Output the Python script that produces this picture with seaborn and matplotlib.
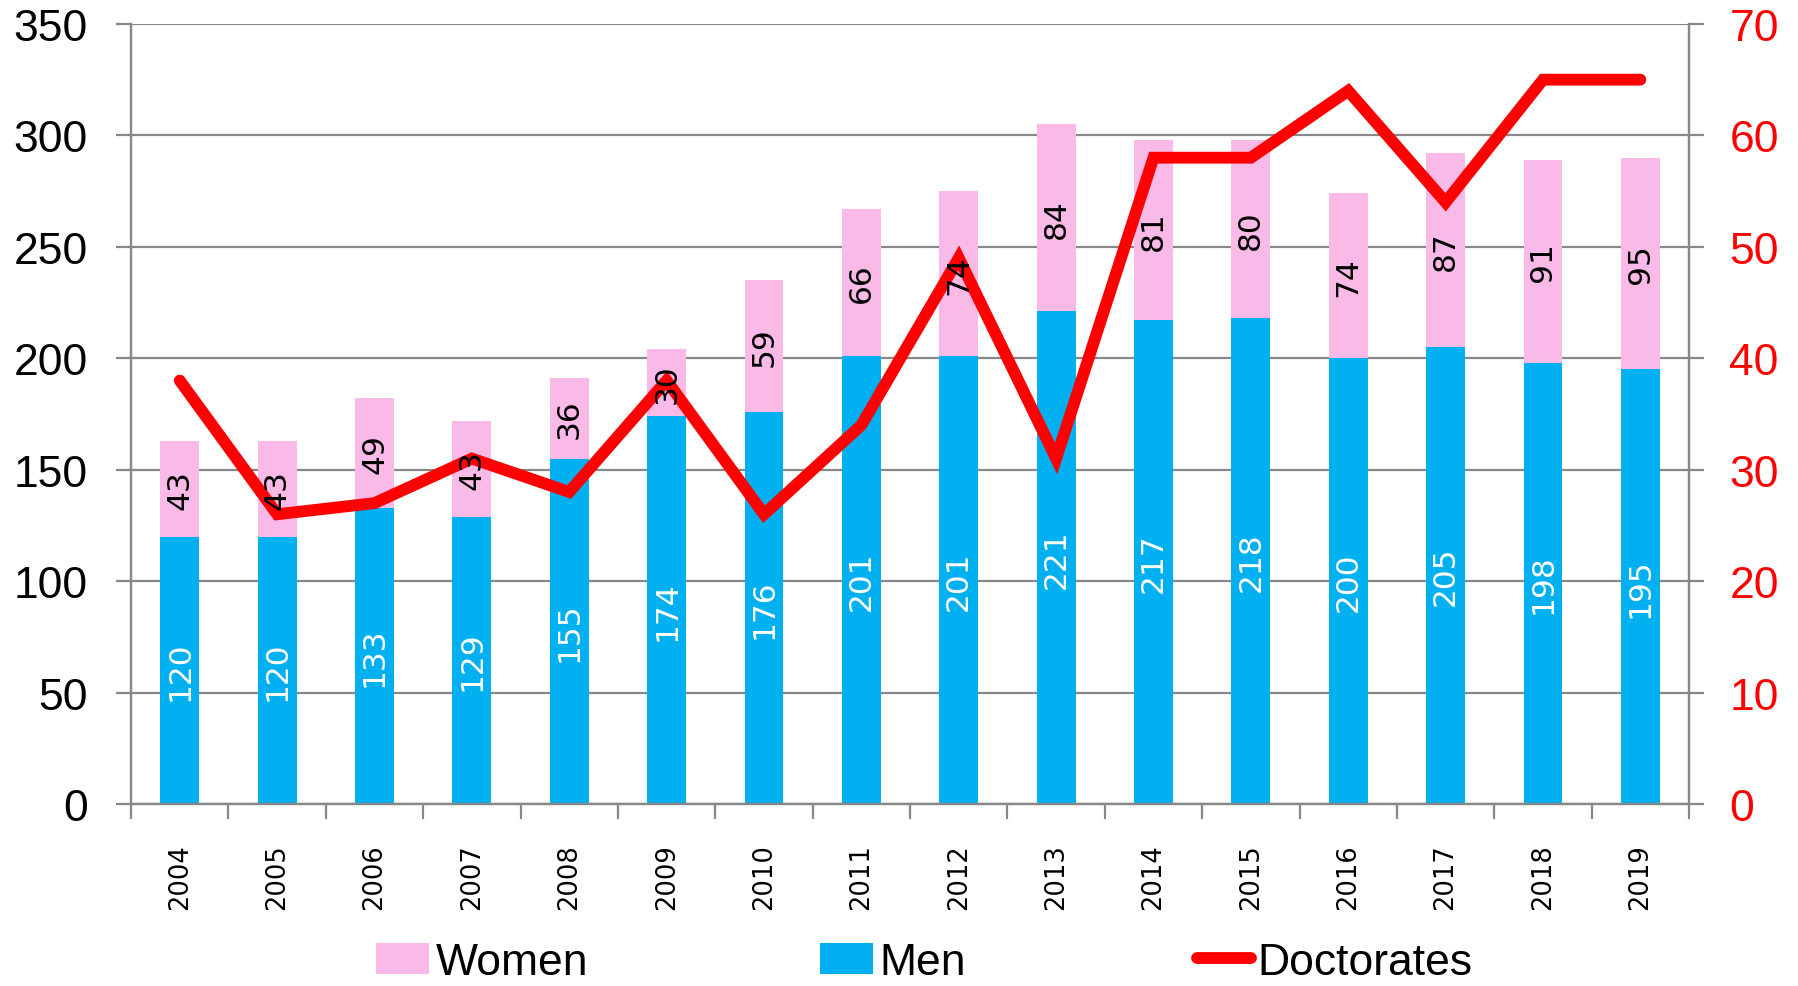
import numpy as np
import seaborn as sns
import matplotlib.pyplot as plt
from matplotlib.patches import Patch
from matplotlib.lines import Line2D
from matplotlib.ticker import MultipleLocator, FixedLocator

years = ['2004', '2005', '2006', '2007', '2008', '2009', '2010', '2011',
         '2012', '2013', '2014', '2015', '2016', '2017', '2018', '2019']
men = [120, 120, 133, 129, 155, 174, 176, 201, 201, 221, 217, 218, 200, 205, 198, 195]
women = [43, 43, 49, 43, 36, 30, 59, 66, 74, 84, 81, 80, 74, 87, 91, 95]
doctorates = [38, 26, 27, 31, 28, 38, 26, 34, 49, 31, 58, 58, 64, 54, 65, 65]

pink = '#F9BAE8'
blue = '#00B0F0'
red = '#FF0000'
grey = '#888888'

sns.set_style('white')
plt.rcParams['font.family'] = ['Liberation Sans', 'DejaVu Sans']
plt.rcParams['text.color'] = 'black'
plt.rcParams['xtick.color'] = 'black'
plt.rcParams['ytick.color'] = 'black'

totals = [m + w for m, w in zip(men, women)]
idx = np.arange(len(years))

fig = plt.figure(figsize=(17.98, 9.87), dpi=100)
ax = fig.add_axes([0.0729, 0.1844, 0.8665, 0.7903])

sns.barplot(x=years, y=totals, color=pink, width=0.4, saturation=1, ax=ax, zorder=2)
sns.barplot(x=years, y=men, color=blue, width=0.4, saturation=1, ax=ax, zorder=2)
for p in ax.patches:
    p.set_edgecolor('none')

ax.set_xlim(-0.5, len(years) - 0.5)
ax.set_ylim(0, 350)
ax.yaxis.set_major_locator(MultipleLocator(50))
ax.grid(axis='y', color=grey, linewidth=1.6, zorder=0)
ax.set_axisbelow(True)
ax.set_xlabel('')
ax.set_ylabel('')

ax2 = ax.twinx()
sns.lineplot(x=idx, y=doctorates, color=red, linewidth=8.5, ax=ax2,
             solid_capstyle='round', solid_joinstyle='miter')
ax2.set_ylim(0, 70)
ax2.yaxis.set_major_locator(MultipleLocator(10))
ax2.set_ylabel('')
ax2.set_xlim(-0.5, len(years) - 0.5)

# value labels inside the bars (drawn above the line)
for i in idx:
    ax2.text(i, men[i] / 2, str(men[i]), transform=ax.transData, rotation=90,
             ha='center', va='center', color='white', fontsize=22.5,
             family='DejaVu Sans', zorder=5)
    ax2.text(i, men[i] + women[i] / 2, str(women[i]), transform=ax.transData,
             rotation=90, ha='center', va='center', color='black', fontsize=22.5,
             family='DejaVu Sans', zorder=5)

for a in (ax, ax2):
    a.spines['top'].set_visible(False)
    for s in ('left', 'right', 'bottom'):
        a.spines[s].set_color(grey)
        a.spines[s].set_linewidth(1.6)

ax.tick_params(axis='y', left=True, length=11, width=1.6, color=grey,
               labelsize=32, labelcolor='black', pad=20, direction='out')
ax2.tick_params(axis='y', right=True, length=11, width=1.6, color=grey,
                labelsize=32, labelcolor=red, pad=18, direction='out')

ax.set_xticks(idx)
ax.set_xticklabels(years, rotation=90, family='DejaVu Sans', fontsize=18.5)
ax.xaxis.set_minor_locator(FixedLocator(np.arange(-0.5, len(years), 1.0)))
ax.tick_params(axis='x', which='major', length=0, pad=28, labelcolor='black')
ax.tick_params(axis='x', which='minor', bottom=True, length=11, width=1.6,
               color=grey, direction='out')

handles = [Patch(facecolor=pink, edgecolor='none', label='Women'),
           Patch(facecolor=blue, edgecolor='none', label='Men'),
           Line2D([0], [0], color=red, linewidth=8.5, solid_capstyle='round',
                  label='Doctorates')]
fig.legend(handles=handles, loc='center', bbox_to_anchor=(0.514, 0.024), ncol=3,
           frameon=False, fontsize=32, handlelength=1.2, handleheight=0.7,
           handletextpad=0.15, columnspacing=5.2, borderpad=0.2)

fig.savefig('out.png', dpi=100)
